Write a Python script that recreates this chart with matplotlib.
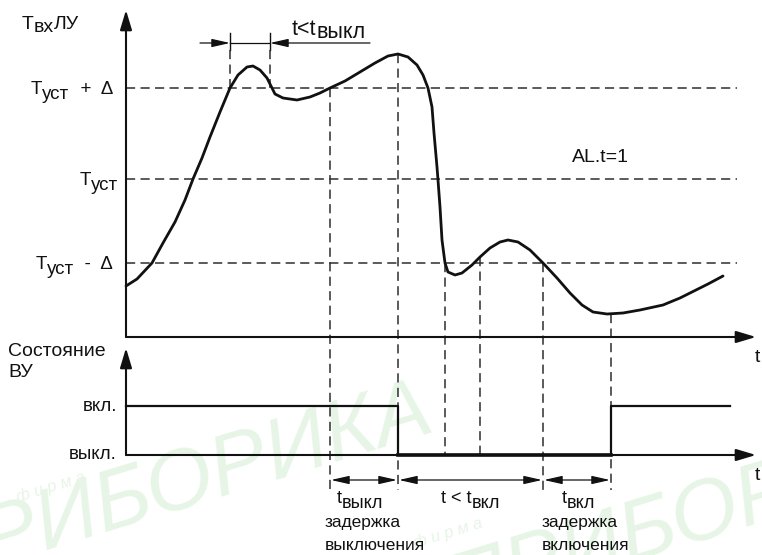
import matplotlib
matplotlib.use("Agg")
import matplotlib.pyplot as plt
from matplotlib import font_manager

# ── Data (picture coordinates, px; y grows downward) ─────────────────
curve_x = [126, 137, 152, 163, 175, 185, 193, 202, 210, 220, 230, 238, 247, 253,
           260, 267, 272, 275, 283, 297, 310, 320, 330, 345, 360, 375, 388, 398,
           408, 417, 423, 428, 432, 434, 437, 438, 440, 442, 445, 448, 455, 462,
           472, 480, 490, 500, 508, 518, 530, 543, 557, 570, 582, 593, 607, 623,
           640, 663, 680, 708, 723]
curve_y = [286, 279, 263, 243, 222, 200, 179, 158, 137, 112, 88, 75, 67, 66,
           70, 78, 88, 94, 98, 100, 97, 93, 88, 81, 72, 63, 56, 54,
           57, 65, 75, 88, 107, 133, 167, 180, 207, 240, 263, 272, 275, 273,
           265, 257, 248, 242, 240, 242, 250, 263, 278, 293, 305, 312, 314, 313,
           310, 305, 298, 284, 276]

level_y = [88, 179, 263]                      # Tуст+Δ, Tуст, Tуст-Δ
level_main = ["T", "T", "T"]
level_sub = ["уст", "уст", "уст"]
level_tail = ["  +  Δ", "", "  -  Δ"]

state_x = [126, 398, 398, 611, 611, 730]
state_y = [406, 406, 455, 455, 406, 406]

vline_x = [330, 398, 445, 480, 543, 611]
vline_top = [88, 54, 263, 257, 263, 314]
vline_bot = [490, 490, 455, 455, 490, 490]

dim_x = [330, 398, 543, 611]                  # bottom dimension marks
dim_y = 480

# ── Fonts ────────────────────────────────────────────────────────────
def pick_font(names):
    for n in names:
        try:
            font_manager.findfont(n, fallback_to_default=False)
            return n
        except Exception:
            continue
    return "DejaVu Sans"

MAIN_FONT = pick_font(["Liberation Sans", "Arial", "DejaVu Sans"])
plt.rcParams["font.family"] = [MAIN_FONT, "DejaVu Sans"]

INK = "#111111"
DASH = "#2e2e2e"
WM = "#e7f5e7"

fig = plt.figure(figsize=(7.62, 5.55), dpi=100)
ax = fig.add_axes([0, 0, 1, 1])
ax.set_xlim(0, 762)
ax.set_ylim(555, 0)
ax.axis("off")
renderer = fig.canvas.get_renderer()


def rich(x, y, parts, ha="left", size=13.5):
    """Draw text pieces side by side; parts = [(text, dy), ...]."""
    texts = []
    for s, dy in parts:
        t = ax.text(0, y + dy, s, fontsize=size, color=INK,
                    va="baseline", ha="left", zorder=5)
        texts.append(t)
    widths = [t.get_window_extent(renderer).width for t in texts]
    total = sum(widths)
    cx = x - total if ha == "right" else (x - total / 2 if ha == "center" else x)
    for t, w in zip(texts, widths):
        t.set_x(cx)
        cx += w
    return texts


def arrow(x0, y0, x1, y1, style="-|>", hl=1.2, hw=0.36, lw=1.5):
    ax.annotate("", xy=(x1, y1), xytext=(x0, y0),
                arrowprops=dict(arrowstyle=f"{style},head_length={hl},head_width={hw}",
                                lw=lw, color=INK, shrinkA=0, shrinkB=0,
                                mutation_scale=10), zorder=4)


# ── Watermark ────────────────────────────────────────────────────────
for wx, wy in [(-70, 585), (455, 615)]:
    ax.text(wx, wy, "ПРИБОРИКА", fontsize=62, fontstyle="italic", color=WM,
            rotation=17, rotation_mode="anchor", ha="left", va="baseline", zorder=0)
for wx, wy in [(18, 502), (415, 548)]:
    ax.text(wx, wy, "ф и р м а", fontsize=12, fontstyle="italic", color=WM,
            rotation=17, rotation_mode="anchor", ha="left", va="baseline", zorder=0)

# ── Axes ─────────────────────────────────────────────────────────────
arrow(126, 337, 126, 10)
arrow(126, 337, 756, 337)
arrow(126, 455, 126, 348)
arrow(126, 455, 756, 455)
ax.text(755, 362, "t", fontsize=14, color=INK, va="baseline", ha="left")
ax.text(755, 480, "t", fontsize=14, color=INK, va="baseline", ha="left")

# ── Dashed reference lines ───────────────────────────────────────────
for ly in level_y:
    ax.plot([126, 737], [ly, ly], color=DASH, lw=1.1, ls=(0, (6, 3.5)), zorder=2)
for vx, vt, vb in zip(vline_x, vline_top, vline_bot):
    ax.plot([vx, vx], [vt, vb], color=DASH, lw=1.1, ls=(0, (6, 3.5)), zorder=2)
for vx in [230, 270]:
    ax.plot([vx, vx], [33, 50], color=INK, lw=1.0, zorder=2)
    ax.plot([vx, vx], [50, 88], color=DASH, lw=1.1, ls=(0, (6, 3.5)), zorder=2)

# ── Signal curve and output state ────────────────────────────────────
ax.plot(curve_x, curve_y, color=INK, lw=2.0, solid_capstyle="round",
        solid_joinstyle="round", zorder=3)
ax.plot(state_x, state_y, color=INK, lw=1.6, zorder=3)
ax.plot(state_x[2:4], state_y[2:4], color=INK, lw=2.6, zorder=3)

# ── Dimension arrows ─────────────────────────────────────────────────
arrow(200, 43, 230, 43, hl=1.1, hw=0.25, lw=0.9)
ax.plot([230, 270], [43, 43], color=INK, lw=0.9)
arrow(370, 43, 270, 43, hl=1.1, hw=0.25, lw=0.9)
for a, b in zip(dim_x[:-1], dim_x[1:]):
    arrow(a + 1, dim_y, b - 1, dim_y, style="<|-|>", hl=1.1, hw=0.25, lw=0.9)

# ── Labels ───────────────────────────────────────────────────────────
rich(22, 29, [("T", 0), ("вх", 3), ("ЛУ", 0)], size=14)
for ly, m, s, t, rx in zip(level_y, level_main, level_sub, level_tail, [113, 118, 113]):
    parts = [(m, 0), (s, 5)] + ([(t, 0)] if t else [])
    rich(rx, ly + 6, parts, ha="right", size=13.5)
rich(292, 35, [("t<t", 0), ("выкл", 3)], size=15.5)
ax.text(8, 356, "Состояние", fontsize=14, color=INK, va="baseline")
ax.text(8, 377, "ВУ", fontsize=14, color=INK, va="baseline")
ax.text(117, 411, "вкл.", fontsize=13.5, color=INK, va="baseline", ha="right")
ax.text(117, 459, "выкл.", fontsize=13.5, color=INK, va="baseline", ha="right")
ax.text(572, 162, "AL.t=1", fontsize=14, color=INK, va="baseline")

nsize = 12.5
rich(337, 503, [("t", 0), ("выкл", 5)], size=nsize + 0.5)
rich(441, 503, [("t < t", 0), ("вкл", 5)], size=nsize + 0.5)
rich(562, 503, [("t", 0), ("вкл", 5)], size=nsize + 0.5)
for bx, w1, w2 in [(325, "задержка", "выключения"), (542, "задержка", "включения")]:
    ax.text(bx, 527, w1, fontsize=nsize, color=INK, va="baseline")
    ax.text(bx, 550, w2, fontsize=nsize, color=INK, va="baseline")

fig.savefig("out.png", dpi=100)
